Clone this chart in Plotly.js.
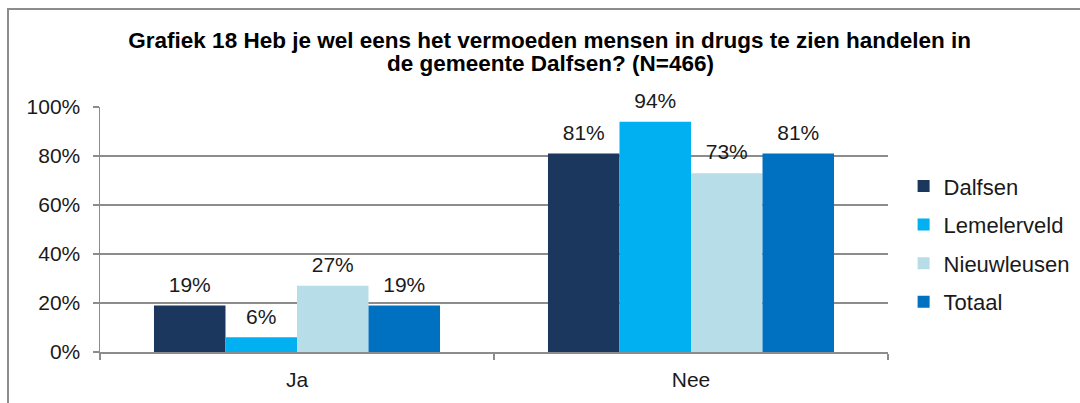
<!DOCTYPE html>
<html>
<head>
<meta charset="utf-8">
<script src="https://cdn.plot.ly/plotly-3.0.1.min.js"></script>
<style>
  html, body { margin:0; padding:0; background:#fff; }
  #wrap { position:relative; width:1080px; height:403px; overflow:hidden; }
  #frame { position:absolute; left:7px; top:8px; width:1080px; height:400px;
           border-top:2px solid #8c8c8c; border-left:2px solid #8c8c8c; box-sizing:border-box; }
  #chart { position:absolute; left:0; top:0; width:1080px; height:403px; }
</style>
</head>
<body>
<div id="wrap">
  <div id="frame"></div>
  <div id="chart"></div>
</div>
<script>
const categories = ["Ja", "Nee"];
const seriesNames = ["Dalfsen", "Lemelerveld", "Nieuwleusen", "Totaal"];
const dalfsen = [19, 81];
const lemelerveld = [6, 94];
const nieuwleusen = [27, 73];
const totaal = [19, 81];
const yTickVals = [0, 20, 40, 60, 80, 100];
const yTickText = ["0%", "20%", "40%", "60%", "80%", "100%"];
const titleLine1 = "Grafiek 18 Heb je wel eens het vermoeden mensen in drugs te zien handelen in";
const titleLine2 = "de gemeente Dalfsen? (N=466)";

const seriesValues = [dalfsen, lemelerveld, nieuwleusen, totaal];
const colors = ["#1b375e", "#00b0f0", "#b7dee8", "#0070c0"];
const FONT = "Liberation Sans, Arial, sans-serif";
const GAP = 0.274;
const TITLE_FONT = { family: FONT, size: 22.5, color: "#000", weight: "bold" };

const traces = [];
seriesNames.forEach((name, i) => {
  traces.push({
    type: "bar", name: name, x: categories, y: seriesValues[i],
    marker: { color: colors[i], line: { width: 0 } },
    offsetgroup: String(i), legendgroup: String(i),
    hoverinfo: "none"
  });
});
seriesNames.forEach((name, i) => {
  traces.push({
    type: "scatter", mode: "markers+text", x: categories, y: seriesValues[i],
    text: seriesValues[i].map(v => v + "%"), textposition: "top center",
    textfont: { family: FONT, size: 21, color: "#1a1a1a" },
    marker: { size: 12, opacity: 0 },
    offsetgroup: String(i), showlegend: false, hoverinfo: "none", cliponaxis: false
  });
});

const layout = {
  width: 1080, height: 403,
  paper_bgcolor: "rgba(0,0,0,0)", plot_bgcolor: "rgba(0,0,0,0)",
  margin: { l: 100, r: 192, t: 107, b: 51, autoexpand: false },
  font: { family: FONT, size: 21, color: "#1a1a1a" },
  title: {
    text: titleLine1, font: TITLE_FONT,
    xref: "container", x: 0.509, xanchor: "center",
    yref: "container", y: 1 - 40/403, yanchor: "middle"
  },
  annotations: [{
    text: titleLine2, font: TITLE_FONT, showarrow: false,
    xref: "paper", x: (550 - 100) / 788, xanchor: "center",
    yref: "paper", y: (352 - 64) / 245, yanchor: "middle"
  }],
  barmode: "group", bargap: GAP, bargroupgap: 0,
  scattermode: "group", scattergap: GAP,
  showlegend: true,
  legend: {
    x: 1.0198, xanchor: "left", y: 0.44, yanchor: "middle",
    font: { family: FONT, size: 22, color: "#1a1a1a" },
    tracegroupgap: 7, traceorder: "grouped", bgcolor: "rgba(0,0,0,0)"
  },
  xaxis: {
    type: "category", showline: true, linecolor: "#8c8c8c", linewidth: 1.5,
    ticks: "outside", tickson: "boundaries", ticklen: 6, tickcolor: "#8c8c8c", tickwidth: 1.5,
    showgrid: false, ticklabelstandoff: 8, tickfont: { size: 21 }
  },
  yaxis: {
    range: [0, 100], tickvals: yTickVals, ticktext: yTickText,
    showline: true, linecolor: "#8c8c8c", linewidth: 1.5,
    ticks: "outside", ticklen: 6, tickcolor: "#8c8c8c", tickwidth: 1.5,
    showgrid: true, gridcolor: "#8c8c8c", gridwidth: 1.5, zeroline: false,
    ticklabelstandoff: 8, tickfont: { size: 21 }, fixedrange: true
  }
};

Plotly.newPlot("chart", traces, layout, { staticPlot: true });
</script>
</body>
</html>
